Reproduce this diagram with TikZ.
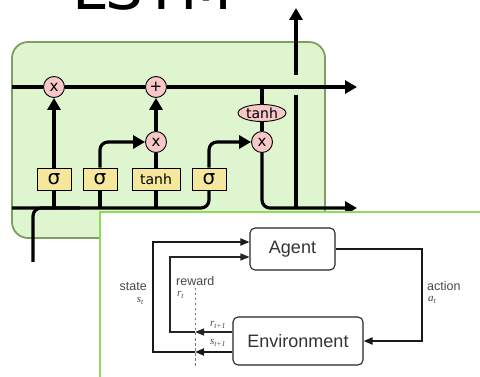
\documentclass[tikz,border=0pt]{standalone}
\usepackage{fontspec}
\setmainfont{DejaVu Sans}
\newfontfamily\rlfont{Liberation Sans}
\newfontfamily\rlserif{Liberation Serif}
\usetikzlibrary{arrows.meta,shapes.geometric,calc}
\definecolor{cellfill}{HTML}{DFF5D0}
\definecolor{cellborder}{HTML}{7E9E62}
\definecolor{pinkop}{HTML}{F8C8C8}
\definecolor{yellowgate}{HTML}{F5E89C}
\definecolor{panelgreen}{HTML}{8CDC5A}
\definecolor{labelgray}{HTML}{484848}
\begin{document}
\begin{tikzpicture}[x=1pt,y=-1pt,
  lstmline/.style={line width=3.2pt, rounded corners=8pt},
  bigarrow/.style={-{Triangle[length=12pt,width=13pt]}},
  opnode/.style={circle, draw=black, line width=0.9pt, fill=pinkop, minimum size=21pt, inner sep=0pt, font=\fontsize{15}{15}\selectfont},
  gate/.style={rectangle, draw=black, line width=0.9pt, fill=yellowgate, minimum height=22pt, minimum width=34pt, inner sep=0pt, font=\fontsize{20}{20}\selectfont},
  rlbox/.style={draw=black!85, rounded corners=5pt, line width=1.1pt, fill=white, text=black!80, font=\rlfont\fontsize{18}{18}\selectfont},
  rlthick/.style={line width=1.8pt, draw=black!90},
  rlthin/.style={line width=1.2pt, draw=black!85},
  rlarrow/.style={-{Triangle[length=9pt,width=7pt]}},
  rllabel/.style={inner sep=0pt, text=labelgray, font=\rlfont\fontsize{12.5}{12.5}\selectfont},
  rlmath/.style={inner sep=0pt, text=labelgray, font=\rlserif\itshape\fontsize{11}{11}\selectfont}
]
\clip (0,0) rectangle (480,377);
\fill[white] (0,0) rectangle (480,377);

% title
\node[anchor=base, inner sep=0pt, font=\fontsize{60}{60}\selectfont] (title) at (152,10) {LSTM};

% cell
\draw[fill=cellfill, draw=cellborder, line width=1.8pt, rounded corners=16pt] (12,42) rectangle (325,238);

% nodes
\node[opnode] (m1) at (54,87) {x};
\node[opnode] (p1) at (156,87) {+};
\node[opnode] (m2) at (156,142) {x};
\node[opnode] (m3) at (262,142) {x};
\node[ellipse, draw=black, line width=0.9pt, fill=pinkop, minimum width=48pt, minimum height=17pt, inner sep=0pt, font=\fontsize{14}{14}\selectfont] (th) at (262,113) {tanh};
\node[gate] (g1) at (54,179) {σ};
\node[gate] (g2) at (100,179) {σ};
\node[gate, minimum width=48pt, font=\fontsize{14}{14}\selectfont] (g3) at (156,179) {tanh};
\node[gate] (g4) at (209,179) {σ};

% coordinates
\coordinate (cin) at (12,87);
\coordinate (cout) at (357,87);
\coordinate (tj) at (262,87);
\coordinate (hin) at (12,208);
\coordinate (xj) at (80,208);
\coordinate (xin) at (33,262);
\coordinate (hout) at (357,208);
\coordinate (otop) at (296,8);
\coordinate (ogap) at (296,75);
\coordinate (obot) at (296,95);
\coordinate (ojoin) at (296,208);

% cell state
\draw[lstmline] (cin) -- (m1);
\draw[lstmline] (m1) -- (p1);
\draw[lstmline, bigarrow] (p1) -- (cout);
\draw[lstmline] (tj) -- (th);
\draw[lstmline] (th) -- (m3);
\draw[lstmline, bigarrow] (m3) |- (hout);
\draw[lstmline] (obot) -- (ojoin);
\draw[lstmline, bigarrow] (ogap) -- (otop);

% hidden input
\draw[lstmline] (hin) -| (g4);
\draw[lstmline] (xin) |- (xj);
\draw[lstmline] (g1) -- (g1 |- hin);
\draw[lstmline] (g2) -- (g2 |- hin);
\draw[lstmline] (g3) -- (g3 |- hin);
\draw[lstmline, bigarrow] (g1) -- (m1);
\draw[lstmline, bigarrow] (g2) |- (m2);
\draw[lstmline] (g3) -- (m2);
\draw[lstmline, bigarrow] (m2) -- (p1);
\draw[lstmline, bigarrow] (g4) |- (m3);

% RL panel
\draw[draw=panelgreen, line width=2pt, fill=white] (100,212) rectangle (485,385);

\node[rlbox, minimum width=85pt, minimum height=42pt] (agent) at (292.5,249) {Agent};
\node[rlbox, minimum width=130pt, minimum height=48pt] (env) at (298,341) {Environment};

\coordinate (a2) at (422,341);
\coordinate (sd) at (195,352);
\coordinate (sc) at (153,352);
\coordinate (sa) at (153,242);
\coordinate (rd) at (195,332);
\coordinate (rc) at (170,332);
\coordinate (ra) at (170,257);
\coordinate (dtop) at (195,288);
\coordinate (dbot) at (195,366);

\draw[line width=1pt, draw=black!55, dash pattern=on 2.5pt off 2.5pt] (dtop) -- (dbot);

\draw[rlthick, rlarrow] (agent.east) -| (a2) -- (env.east);
\draw[rlthick, rlarrow] (env.west |- sd) -- (sd);
\draw[rlthick, rlarrow] (sd) -- (sc) |- (agent.west |- sa);
\draw[rlthin, rlarrow] (env.west |- rd) -- (rd);
\draw[rlthin, rlarrow] (rd) -- (rc) |- (agent.west |- ra);

\node[rllabel, anchor=east] (lstate) at (147,287) {state};
\node[rlmath, anchor=east] (lst) at (144,301) {s\textsubscript{t}};
\node[rllabel, anchor=west] (lreward) at (176,281) {reward};
\node[rlmath, anchor=west] (lrt) at (177,295) {r\textsubscript{t}};
\node[rllabel, anchor=west] (laction) at (427,286) {action};
\node[rlmath, anchor=west] (lat) at (428,300) {a\textsubscript{t}};
\node[rlmath] (lrt1) at (218,325) {r\textsubscript{t+1}};
\node[rlmath] (lst1) at (218,343) {s\textsubscript{t+1}};
\end{tikzpicture}
\end{document}
